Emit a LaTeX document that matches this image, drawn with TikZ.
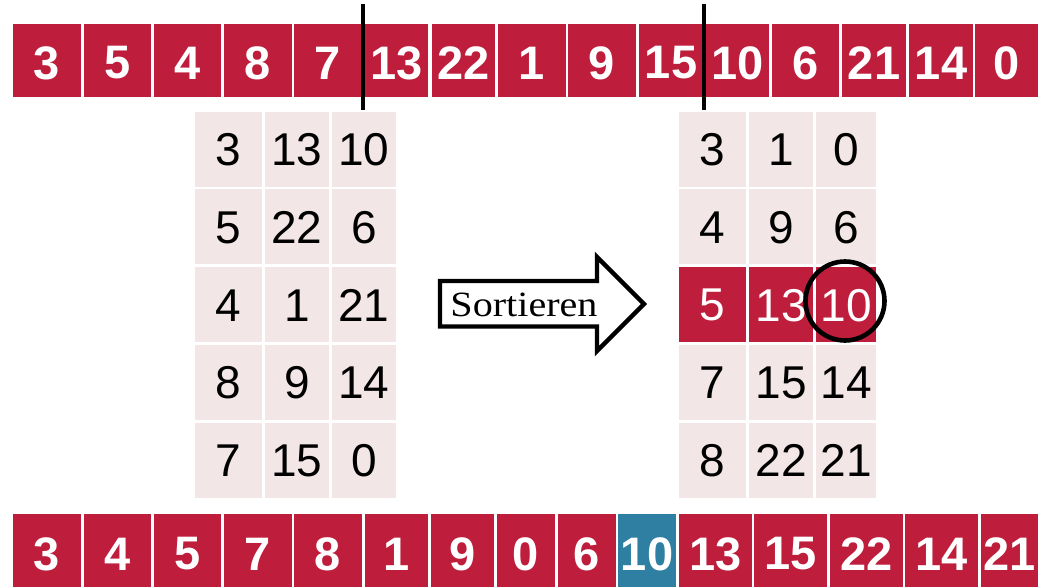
\documentclass[tikz,border=0pt]{standalone}
\usepackage{fontspec}
\setmainfont{Liberation Sans}
\newfontfamily\serifarrow[FakeStretch=1.13]{Liberation Serif}
\definecolor{cellred}{RGB}{190,30,60}
\definecolor{cellpink}{RGB}{242,230,231}
\definecolor{cellblue}{RGB}{47,127,162}
\tikzset{
  bignum/.style={text=white,font=\fontsize{47}{50}\selectfont\bfseries,inner sep=0pt},
  gridnum/.style={text=black,font=\fontsize{46}{50}\selectfont,inner sep=0pt},
  hinum/.style={text=white,font=\fontsize{46}{50}\selectfont,inner sep=0pt},
  divider/.style={line width=4pt,black},
  sortarrow/.style={line width=4.3pt,black,line join=miter,fill=white}
}
\begin{document}
\begin{tikzpicture}[x=1pt,y=-1pt]
\useasboundingbox (0,0) rectangle (1038,586);
\fill[white] (0,0) rectangle (1038,586);
% top row
\foreach \l/\r/\t [count=\i] in {13/81/3, 84/151/5, 154/221/4, 224/292/8, 294/362/7, 365/428/13, 432/495/22, 498/566/1, 568/636/9, 639/703/15, 706/769/10, 772/839/6, 842/906/21, 909/973/14, 975/1038/0}
{
  \fill[cellred] (\l,24) rectangle (\r,97);
  \node[bignum] (top\i) at ({(\l+\r)/2},63) {\t};
}
% bottom row
\foreach \l/\r/\t/\c [count=\i] in {13/81/3/cellred, 84/151/4/cellred, 154/221/5/cellred, 224/292/7/cellred, 294/362/8/cellred, 365/428/1/cellred, 431/494/9/cellred, 497/555/0/cellred, 558/616/6/cellred, 618/676/10/cellblue, 679/752/13/cellred, 754/827/15/cellred, 830/903/22/cellred, 905/978/14/cellred, 981/1038/21/cellred}
{
  \fill[\c] (\l,514) rectangle (\r,590);
  \node[bignum] (bot\i) at ({(\l+\r)/2},554) {\t};
}
% dividers
\draw[divider] (363,4) -- (363,110);
\draw[divider] (704,4) -- (704,110);
% left grid
\foreach \l/\r [count=\c] in {195/262, 265/329, 332/396}{
  \foreach \tp/\bt [count=\rr] in {112/187, 189/264, 267/342, 345/420, 423/498}{
    \fill[cellpink] (\l,\tp) rectangle (\r,\bt);
  }
}
\foreach \t [count=\rr] in {3,5,4,8,7}{\node[gridnum] (la\rr) at (228.5,{72+77.75*\rr}) {\t};}
\foreach \t [count=\rr] in {13,22,1,9,15}{\node[gridnum] (lb\rr) at (297,{72+77.75*\rr}) {\t};}
\foreach \t [count=\rr] in {10,6,21,14,0}{\node[gridnum] (lc\rr) at (364,{72+77.75*\rr}) {\t};}
% right grid
\foreach \l/\r [count=\c] in {679/746, 749/813, 816/876}{
  \foreach \tp/\bt [count=\rr] in {112/187, 189/264, 267/342, 345/420, 423/498}{
    \ifnum\rr=3
      \fill[cellred] (\l,\tp) rectangle (\r,\bt);
    \else
      \fill[cellpink] (\l,\tp) rectangle (\r,\bt);
    \fi
  }
}
\foreach \t [count=\rr] in {3,4,5,7,8}{
  \ifnum\rr=3 \node[hinum] (ra\rr) at (712.5,{72+77.75*\rr}) {\t};
  \else \node[gridnum] (ra\rr) at (712.5,{72+77.75*\rr}) {\t}; \fi}
\foreach \t [count=\rr] in {1,9,13,15,22}{
  \ifnum\rr=3 \node[hinum] (rb\rr) at (781,{72+77.75*\rr}) {\t};
  \else \node[gridnum] (rb\rr) at (781,{72+77.75*\rr}) {\t}; \fi}
\foreach \t [count=\rr] in {0,6,10,14,21}{
  \ifnum\rr=3 \node[hinum] (rc\rr) at (846,{72+77.75*\rr}) {\t};
  \else \node[gridnum] (rc\rr) at (846,{72+77.75*\rr}) {\t}; \fi}
% circle around pivot
\draw[line width=4.6pt,black] (845,301) circle (39.5);
% arrow
\draw[sortarrow] (440,281) -- (597,281) -- (597,257) -- (644,304) -- (597,351) -- (597,326.5) -- (440,326.5) -- cycle;
\node[anchor=base,inner sep=0pt,font=\serifarrow\fontsize{35.5}{40}\selectfont] (sortlabel) at (524,316) {Sortieren};
\end{tikzpicture}
\end{document}
